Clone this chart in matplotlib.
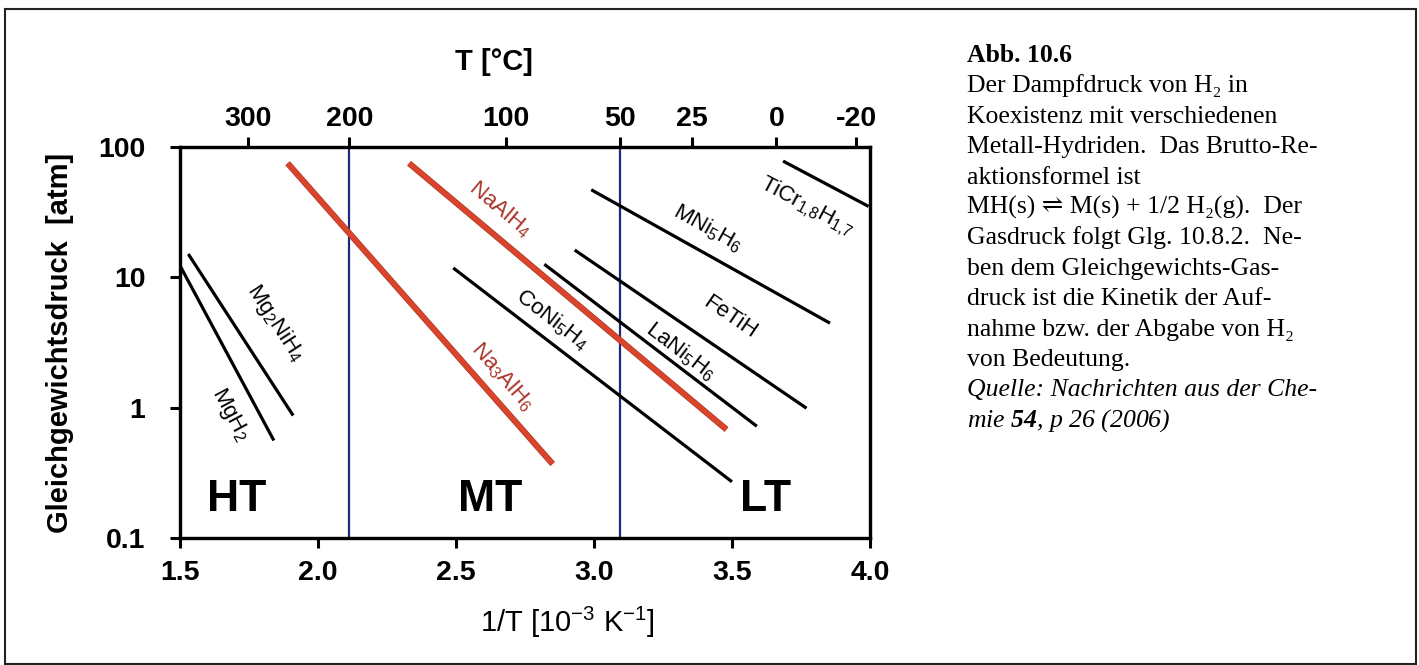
import numpy as np
import matplotlib
matplotlib.use('Agg')
import matplotlib.pyplot as plt
from matplotlib.ticker import NullLocator
from matplotlib.patches import Rectangle
import matplotlib.patheffects as pe

plt.rcParams['font.family'] = ['Liberation Sans', 'DejaVu Sans']
plt.rcParams['mathtext.fontset'] = 'custom'
plt.rcParams['mathtext.default'] = 'regular'
plt.rcParams['mathtext.bf'] = 'Liberation Serif:italic:bold'
plt.rcParams['axes.unicode_minus'] = False

# ---------------- data ----------------
x_ticks = [1.5, 2.0, 2.5, 3.0, 3.5, 4.0]
x_tick_labels = ['1.5', '2.0', '2.5', '3.0', '3.5', '4.0']
y_ticks = [0.1, 1, 10, 100]
y_tick_labels = ['0.1', '1', '10', '100']
top_temps_c = [300, 200, 100, 50, 25, 0, -20]
top_tick_labels = ['300', '200', '100', '50', '25', '0', '-20']
boundary_temps_c = [200, 50]

hydrides = ['MgH2', 'Mg2NiH4', 'Na3AlH6', 'NaAlH4', 'CoNi5H4',
            'LaNi5H6', 'FeTiH', 'MNi5H6', 'TiCr1.8H1.7']
hydride_labels = ['MgH$_2$', 'Mg$_2$NiH$_4$', 'Na$_3$AlH$_6$', 'NaAlH$_4$',
                  'CoNi$_5$H$_4$', 'LaNi$_5$H$_6$', 'FeTiH', 'MNi$_5$H$_6$',
                  'TiCr$_{1{,}8}$H$_{1{,}7}$']
invT_start = [1.50, 1.53, 1.89, 2.33, 2.49, 2.82, 2.93, 2.99, 3.685]
invT_end = [1.84, 1.91, 2.85, 3.48, 3.50, 3.59, 3.77, 3.855, 3.995]
p_start = [12.3, 15.1, 75, 75, 11.8, 12.6, 16.2, 47, 78]
p_end = [0.56, 0.87, 0.37, 0.68, 0.27, 0.72, 0.99, 4.45, 35]
is_sodium_alanate = [False, False, True, True, False, False, False, False, False]
label_x = [1.681, 1.844, 2.670, 2.659, 2.848, 3.312, 3.493, 3.413, 3.772]
label_y = [0.88, 4.5, 1.73, 33.5, 4.7, 2.7, 4.9, 23.9, 34.7]

regions = ['HT', 'MT', 'LT']
region_x = [1.706, 2.623, 3.62]
region_y = [0.197, 0.197, 0.197]

caption_lines = [
    'Der Dampfdruck von H\u2082 in',
    'Koexistenz mit verschiedenen',
    'Metall-Hydriden.  Das Brutto-Re-',
    'aktionsformel ist',
    'MH(s) \u21cc M(s) + 1/2 H\u2082(g).  Der',
    'Gasdruck folgt Glg. 10.8.2.  Ne-',
    'ben dem Gleichgewichts-Gas-',
    'druck ist die Kinetik der Auf-',
    'nahme bzw. der Abgabe von H\u2082',
    'von Bedeutung.',
]

# ---------------- layout ----------------
W, H = 1419, 665
fig = plt.figure(figsize=(W / 100, H / 100), dpi=100)
ax_l, ax_r, ax_t, ax_b = 180, 870, 147, 538
ax = fig.add_axes([ax_l / W, 1 - ax_b / H, (ax_r - ax_l) / W, (ax_b - ax_t) / H])
ax.set_xlim(1.5, 4.0)
ax.set_yscale('log')
ax.set_ylim(0.1, 100)

def to_invT(tc):
    return 1000.0 / (np.asarray(tc, dtype=float) + 273.15)

# boundary lines
for tc in boundary_temps_c:
    ax.axvline(to_invT(tc), color='#1d2a7a', lw=1.6, zorder=2)

def line_angle(x0, y0, x1, y1):
    p0 = ax.transData.transform((x0, y0))
    p1 = ax.transData.transform((x1, y1))
    return np.degrees(np.arctan2(p1[1] - p0[1], p1[0] - p0[0]))

red = '#d9442b'
for i in range(len(hydrides)):
    xs = [invT_start[i], invT_end[i]]
    ys = [p_start[i], p_end[i]]
    if is_sodium_alanate[i]:
        ax.plot(xs, ys, color=red, lw=3.6, solid_capstyle='butt', zorder=3,
                path_effects=[pe.Stroke(linewidth=4.4, foreground='#a33322'), pe.Normal()])
        tcol = '#a8352b'
    else:
        ax.plot(xs, ys, color='black', lw=2.3, solid_capstyle='butt', zorder=3)
        tcol = 'black'
    ang = line_angle(xs[0], ys[0], xs[1], ys[1])
    ax.text(label_x[i], label_y[i], hydride_labels[i], rotation=ang,
            rotation_mode='anchor', ha='center', va='center', fontsize=16,
            color=tcol, zorder=4)

for r, rx, ry in zip(regions, region_x, region_y):
    ax.text(rx, ry, r, fontsize=32, fontweight='bold', ha='center', va='center')

# axes styling
for s in ax.spines.values():
    s.set_linewidth(2.3)
ax.set_xticks(x_ticks, labels=x_tick_labels)
ax.set_yticks(y_ticks, labels=y_tick_labels)
ax.yaxis.set_minor_locator(NullLocator())
ax.xaxis.set_minor_locator(NullLocator())
ax.tick_params(axis='both', which='major', direction='out', length=7, width=2.2,
               labelsize=20.5)
ax.tick_params(axis='x', pad=9)
ax.tick_params(axis='y', pad=18)
for lab in ax.get_xticklabels() + ax.get_yticklabels():
    lab.set_fontweight('bold')

ax.set_xlabel('1/T [10$^{-3}$ K$^{-1}$]', fontsize=21)
ax.xaxis.set_label_coords(0.561, -0.240)
ax.xaxis.label.set_verticalalignment('baseline')

ax.set_ylabel('Gleichgewichtsdruck  [atm]', fontsize=21, fontweight='bold')
ax.yaxis.set_label_coords(-0.154, 0.5)

# top axis in degree Celsius
ax2 = ax.twiny()
ax2.set_xlim(ax.get_xlim())
ax2.set_xticks(to_invT(top_temps_c), labels=top_tick_labels)
ax2.xaxis.set_minor_locator(NullLocator())
ax2.tick_params(axis='x', direction='out', length=7, width=2.2, labelsize=20.5, pad=4)
for lab in ax2.get_xticklabels():
    lab.set_fontweight('bold')
for s in ax2.spines.values():
    s.set_linewidth(2.3)
ax2.set_xlabel('T [\u00b0C]', fontsize=21, fontweight='bold')
ax2.xaxis.set_label_coords(0.455, 1.197)
ax2.xaxis.label.set_verticalalignment('baseline')

# caption text block
serif = ['Liberation Serif', 'DejaVu Serif', 'DejaVu Sans']
tx = 967 / W
base0, step = 62, 30.4
fig.text(tx, 1 - base0 / H, 'Abb. 10.6', family=serif, fontsize=18.5,
         fontweight='bold', va='baseline', ha='left')
for i, s in enumerate(caption_lines):
    fig.text(tx, 1 - (base0 + (i + 1) * step) / H, s, family=serif, fontsize=18.5,
             va='baseline', ha='left')
n = len(caption_lines)
fig.text(tx, 1 - (base0 + (n + 1) * step) / H, 'Quelle: Nachrichten aus der Che-',
         family=serif, fontsize=18.5, style='italic', va='baseline', ha='left')
fig.text(tx, 1 - (base0 + (n + 2) * step) / H, 'mie $\\mathbf{54}$, p 26 (2006)',
         family=serif, fontsize=18.5, style='italic', va='baseline', ha='left')

# outer frame
fig.patches.append(Rectangle((5 / W, 1 / H), 1411 / W, 655 / H, transform=fig.transFigure,
                             fill=False, edgecolor='#222222', linewidth=1.5))

fig.savefig('out.png', dpi=100)
